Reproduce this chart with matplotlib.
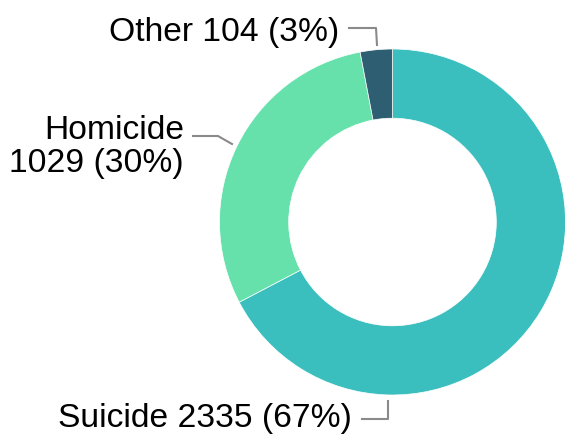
import matplotlib.pyplot as plt

categories = ["Suicide", "Homicide", "Other"]
deaths = [2335, 1029, 104]
percents = [67, 30, 3]
colors = ["#3abfbe", "#66e1ac", "#2e5e72"]

plt.rcParams["font.family"] = ["Liberation Sans", "DejaVu Sans"]

W, H = 565, 436
fig = plt.figure(figsize=(W / 100, H / 100), dpi=100)
ax = fig.add_axes([0, 0, 1, 1])

# pixel-like coordinates, y measured from the bottom
cx, cy, r = 392.5, H - 222, 173

ax.pie(
    deaths,
    colors=colors,
    startangle=90,
    counterclock=False,
    center=(cx, cy),
    radius=r,
    wedgeprops=dict(width=r * 0.4, edgecolor="white", linewidth=0.5),
)

labels = [f"{c} {v} ({p}%)" for c, v, p in zip(categories, deaths, percents)]
labels[1] = f"{categories[1]}\n{deaths[1]} ({percents[1]}%)"

fs = 24.2
line_kw = dict(color="#8a8a8a", linewidth=1.5)

# Other
ax.text(339, H - 41, labels[2], ha="right", va="baseline", fontsize=fs)
ax.plot([349, 376, 377], [H - 28, H - 28, H - 45], **line_kw)

# Homicide
ax.text(184, H - 147, labels[1], ha="right", va="center", fontsize=fs,
        linespacing=1.05)
ax.plot([193, 218, 232], [H - 136, H - 136, H - 144], **line_kw)

# Suicide
ax.text(352, H - 427, labels[0], ha="right", va="baseline", fontsize=fs)
ax.plot([362, 388, 388], [H - 419, H - 419, H - 401], **line_kw)

ax.set_xlim(0, W)
ax.set_ylim(0, H)
ax.set_aspect("auto")
ax.axis("off")

fig.savefig("out.png", dpi=100)
